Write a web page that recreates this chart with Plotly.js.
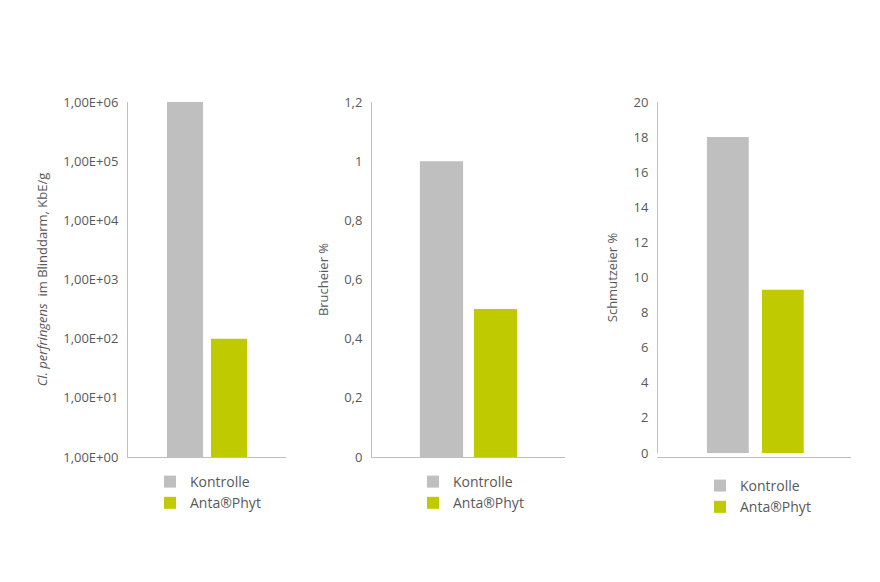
<!DOCTYPE html>
<html>
<head>
<meta charset="utf-8">
<script src="https://cdn.plot.ly/plotly-3.0.1.min.js"></script>
</head>
<body style="margin:0">
<div id="chart" style="width:880px;height:582px"></div>
<script>
var groups = ["Kontrolle", "Anta®Phyt"]
var colors = ["#bfbfbf", "#bfca00"]
var cperf = [1000000, 100]       // Cl. perfringens KbE/g
var bruch = [1.0, 0.5]           // Brucheier %
var schmutz = [18, 9.3]          // Schmutzeier %
var logTickVals = [1, 10, 100, 1000, 10000, 100000, 1000000]
var logTickText = ["1,00E+00", "1,00E+01", "1,00E+02", "1,00E+03", "1,00E+04", "1,00E+05", "1,00E+06"]

var font = { family: "Open Sans, Liberation Sans, sans-serif", size: 13, color: "#595959" }
var data = []
var sets = [
  { vals: cperf, xa: "x", ya: "y", lg: "legend", w: 0.82 },
  { vals: bruch, xa: "x2", ya: "y2", lg: "legend2", w: 0.8 },
  { vals: schmutz, xa: "x3", ya: "y3", lg: "legend3", w: 0.76 },
]
sets.forEach(function (s) {
  groups.forEach(function (g, i) {
    data.push({
      type: "bar", name: g, x: [i], y: [s.vals[i]], width: s.w,
      marker: { color: colors[i] }, xaxis: s.xa, yaxis: s.ya, legend: s.lg,
      hoverinfo: "y",
    })
  })
})

function xax(d, r) {
  return { domain: d, range: r, showticklabels: false, showgrid: false, zeroline: false,
    showline: true, linecolor: "#bfbfbf", ticks: "", fixedrange: true }
}
function yax(d, extra) {
  var a = { domain: d, showgrid: false, zeroline: false, showline: true, linecolor: "#bfbfbf",
    ticks: "", tickfont: font, anchor: extra.anchor }
  for (var k in extra) a[k] = extra[k]
  return a
}
function leg(x, y) {
  return { x: x, y: y, xanchor: "left", yanchor: "top", font: { family: font.family, size: 14, color: "#595959" },
    bgcolor: "rgba(0,0,0,0)", tracegroupgap: 0, itemwidth: 30 }
}

var layout = {
  width: 880, height: 582,
  margin: { t: 0, r: 0, l: 0, b: 0 },
  separators: ", ",
  paper_bgcolor: "white", plot_bgcolor: "white",
  font: font,
  xaxis: xax([128 / 880, 286 / 880], [-1.295, 2.295]),
  xaxis2: xax([372 / 880, 565 / 880], [-1.287, 2.287]),
  xaxis3: xax([658 / 880, 851 / 880], [-1.27, 2.24]),
  yaxis: yax([1 - 457 / 582, 1 - 102 / 582], { anchor: "x", type: "log", range: [0, 6],
    tickvals: logTickVals, ticktext: logTickText, ticklabelstandoff: 6,
    title: { text: "<i>Cl. perfringens</i>  im Blinddarm, KbE/g", font: font, standoff: 12 } }),
  yaxis2: yax([1 - 457 / 582, 1 - 102 / 582], { anchor: "x2", range: [0, 1.2], dtick: 0.2,
    ticklabelstandoff: 6, title: { text: "Brucheier %", font: font, standoff: 12 } }),
  yaxis3: yax([1 - 453 / 582, 1 - 102 / 582], { anchor: "x3", range: [0, 20], dtick: 2,
    ticklabelstandoff: 6, title: { text: "Schmutzeier %", font: font, standoff: 12 } }),
  legend: leg(150 / 880, 1 - 466 / 582),
  legend2: leg(413 / 880, 1 - 466 / 582),
  legend3: leg(700 / 880, 1 - 470 / 582),
  showlegend: true,
}
Plotly.newPlot("chart", data, layout, { displayModeBar: false })
</script>
</body>
</html>
